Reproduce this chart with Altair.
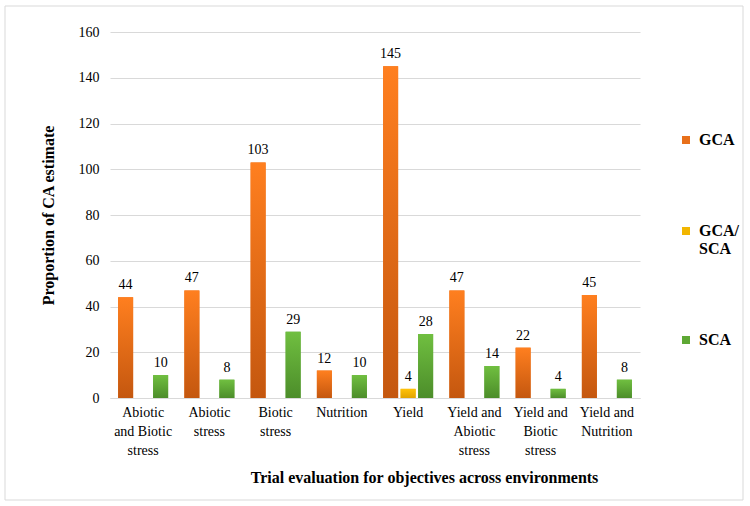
import altair as alt
import pandas as pd

# Trial objectives (line breaks mark how the axis labels wrap)
categories = [
    "Abiotic\nand Biotic\nstress",
    "Abiotic\nstress",
    "Biotic\nstress",
    "Nutrition",
    "Yield",
    "Yield and\nAbiotic\nstress",
    "Yield and\nBiotic\nstress",
    "Yield and\nNutrition",
]
series = ["GCA", "GCA/SCA", "SCA"]
gca = [44, 47, 103, 12, 145, 47, 22, 45]
gca_sca = [None, None, None, None, 4, None, None, None]
sca = [10, 8, 29, 10, 28, 14, 4, 8]

rows = []
for name, vals in zip(series, [gca, gca_sca, sca]):
    for cat, v in zip(categories, vals):
        if v is not None:
            rows.append({"objective": cat, "series": name, "value": v})
df = pd.DataFrame(rows)

solid = ["#E8701A", "#F2B600", "#5EA834"]
gradients = {
    "GCA": ("#FF7F1F", "#C4570F"),
    "GCA/SCA": ("#FFC20A", "#E2A400"),
    "SCA": ("#70BF40", "#4C8D2A"),
}

FONT = "Times New Roman, Liberation Serif, DejaVu Serif, serif"
W, H = 530, 366

x_enc = alt.X(
    "objective:N",
    sort=categories,
    scale=alt.Scale(paddingInner=0, paddingOuter=0),
    axis=alt.Axis(
        title="Trial evaluation for objectives across environments",
        labelAngle=0,
        labelExpr="split(datum.label, '\\n')",
        labelFont=FONT,
        labelFontSize=14,
        labelColor="#000000",
        labelLineHeight=19,
        labelPadding=7,
        labelBaseline="top",
        ticks=False,
        domainColor="#d9d9d9",
        titleFont=FONT,
        titleFontSize=16,
        titleFontWeight="bold",
        titleColor="#000000",
        titlePadding=12,
        titleX=314,
    ),
)
xoff = alt.XOffset(
    "series:N",
    scale=alt.Scale(domain=series, paddingInner=0.143, paddingOuter=0.464),
)
y_enc = alt.Y(
    "value:Q",
    scale=alt.Scale(domain=[0, 160]),
    axis=alt.Axis(
        title="Proportion of CA estimate",
        values=list(range(0, 161, 20)),
        labelFont=FONT,
        labelFontSize=14,
        labelColor="#000000",
        labelPadding=11,
        ticks=False,
        domain=False,
        gridColor="#d9d9d9",
        titleFont=FONT,
        titleFontSize=16,
        titleFontWeight="bold",
        titleColor="#000000",
        titlePadding=22,
    ),
)

base = alt.Chart(df)

# outer frame around the whole figure
frame = alt.Chart(pd.DataFrame({"k": [0]})).mark_rect(
    fill="white", fillOpacity=0, stroke="#d9d9d9", strokeWidth=1
).encode(
    x=alt.value(5 - 110), x2=alt.value(743 - 110),
    y=alt.value(6 - 32), y2=alt.value(500 - 32),
)

# solid bars carry the colour legend
legend_bars = base.mark_bar().encode(
    x=x_enc, xOffset=xoff, y=y_enc,
    color=alt.Color(
        "series:N",
        scale=alt.Scale(domain=series, range=solid),
        legend=alt.Legend(
            title=None,
            orient="none",
            legendX=568,
            legendY=100,
            symbolType="square",
            symbolSize=64,
            symbolStrokeWidth=0,
            labelFont=FONT,
            labelFontSize=16,
            labelFontWeight="bold",
            labelColor="#000000",
            labelOffset=5,
            labelExpr="datum.label == 'GCA/SCA' ? ['GCA/', 'SCA'] : datum.label",
            rowPadding=75,
        ),
    ),
)

# gradient-shaded bars drawn on top, one layer per series
grad_layers = []
for name in series:
    top, bottom = gradients[name]
    g = alt.Gradient(
        gradient="linear",
        stops=[alt.GradientStop(color=top, offset=0),
               alt.GradientStop(color=bottom, offset=1)],
        x1=0, x2=0, y1=0, y2=1,
    )
    grad_layers.append(
        base.transform_filter(alt.datum.series == name)
        .mark_bar(color=g)
        .encode(x=x_enc, xOffset=xoff, y=y_enc)
    )

labels = base.mark_text(
    baseline="bottom", dy=-5, font=FONT, fontSize=14, color="#000000"
).encode(x=x_enc, xOffset=xoff, y=y_enc, text="value:Q")

chart = alt.layer(frame, legend_bars, *grad_layers, labels).properties(
    width=W,
    height=H,
    autosize=alt.AutoSizeParams(type="none"),
    padding={"left": 110, "top": 32, "right": 110, "bottom": 108},
    background="white",
).configure_view(stroke=None)

chart.save("out.html", embed_options={"renderer": "svg", "actions": False})
